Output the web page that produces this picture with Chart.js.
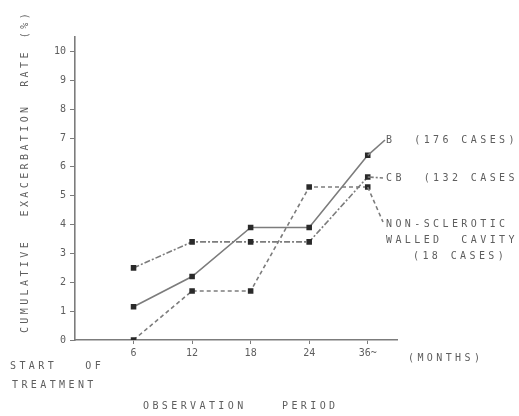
<!DOCTYPE html>
<html>
<head>
<meta charset="utf-8">
<script src="https://cdn.jsdelivr.net/npm/chart.js@4/dist/chart.umd.min.js"></script>
<style>
html,body{margin:0;padding:0;background:#fff;}
#wrap{width:519px;height:416px;position:relative;}
</style>
</head>
<body>
<div id="wrap"><canvas id="c" width="519" height="416"></canvas></div>
<script>
// ---- data ----
const categories = ["6", "12", "18", "24", "36~"];
const seriesB = [1.15, 2.2, 3.9, 3.9, 6.4];          // B (176 cases)
const seriesCB = [2.5, 3.4, 3.4, 3.4, 5.65];        // CB (132 cases)
const seriesNSWC = [0, 1.7, 1.7, 5.3, 5.3];         // Non-sclerotic walled cavity (18 cases)
const yTicks = [0, 1, 2, 3, 4, 5, 6, 7, 8, 9, 10];
const seriesNames = ["B  (176 CASES)", "CB  (132 CASES)", "NON-SCLEROTIC|WALLED  CAVITY|(18 CASES)"];

const FONT = '"DejaVu Sans Mono", "Liberation Mono", monospace';
const TXT = '#5e5e5e';
const LINE = '#7c7c7c';

function pts(arr){ return arr.map((v,i)=>({x:i+1, y:v})); }

const ds = (label, arr, dash) => ({
  label, data: pts(arr), borderColor: LINE, borderWidth: 1.6, borderDash: dash,
  pointStyle: 'rect', pointRadius: 2.8, pointBackgroundColor: '#2a2a2a', pointBorderColor: '#2a2a2a',
  tension: 0, fill: false
});

// leader lines + free text
const annot = {
  id: 'annot',
  afterDatasetsDraw(chart){
    const ctx = chart.ctx;
    ctx.save();
    const targets = [[385,140,[]],[383,178,[6,2,2,2]],[383,222,[4,3]]];
    chart.data.datasets.forEach((d,i)=>{
      const m = chart.getDatasetMeta(i).data;
      const p = m[m.length-1];
      ctx.strokeStyle = LINE; ctx.lineWidth = 1.6; ctx.setLineDash(targets[i][2]);
      ctx.beginPath(); ctx.moveTo(p.x,p.y); ctx.lineTo(targets[i][0],targets[i][1]); ctx.stroke();
    });
    ctx.setLineDash([]);
    ctx.fillStyle = TXT;
    ctx.font = '10px ' + FONT;
    ctx.textBaseline = 'middle';
    try { ctx.letterSpacing = '3.4px'; } catch(e){}
    const text = (s,x,y,align)=>{ ctx.textAlign = align||'left'; ctx.fillText(s,x,y); };
    text(seriesNames[0], 386, 140);
    text(seriesNames[1], 386, 178);
    const ns = seriesNames[2].split('|');
    text(ns[0], 386, 224);
    text(ns[1], 386, 240);
    text(ns[2], 413, 256);
    text('START   OF', 10, 366);
    text('TREATMENT', 12, 385);
    text('(MONTHS)', 408, 358);
    text('OBSERVATION', 143, 406);
    text('PERIOD', 282, 406);
    ctx.save();
    ctx.translate(25, 0);
    ctx.rotate(-Math.PI/2);
    ctx.textAlign = 'center';
    ctx.fillText('CUMULATIVE', -286, 0);
    ctx.fillText('EXACERBATION', -160, 0);
    ctx.fillText('RATE', -68, 0);
    ctx.fillText('(%)', -24, 0);
    ctx.restore();
    ctx.restore();
  }
};

new Chart(document.getElementById('c'), {
  type: 'line',
  data: { datasets: [ ds('B', seriesB, []), ds('CB', seriesCB, [6,2,2,2]), ds('NSWC', seriesNSWC, [4,3]) ] },
  options: {
    responsive: false, animation: false,
    layout: { padding: { top: 37, right: 122, left: 0, bottom: 0 } },
    plugins: { legend: { display: false }, tooltip: { enabled: false } },
    scales: {
      x: {
        type: 'linear', min: 0, max: 5.5,
        afterBuildTicks: s => { s.ticks = categories.map((c,i)=>({value:i+1})); },
        afterFit: s => { s.height = 76; },
        border: { color: LINE, width: 1.6 },
        grid: { drawOnChartArea: false, tickLength: 4, color: LINE },
        ticks: { autoSkip: false, maxRotation: 0, padding: 3, color: TXT,
                 font: { family: FONT, size: 10 },
                 callback: (v) => categories[v-1] }
      },
      y: {
        min: 0, max: 10.5,
        afterBuildTicks: s => { s.ticks = yTicks.map(v=>({value:v})); },
        afterFit: s => { s.width = 75; },
        border: { color: LINE, width: 1.6 },
        grid: { drawOnChartArea: false, tickLength: 5, color: LINE },
        ticks: { padding: 4, color: TXT, font: { family: FONT, size: 10 } }
      }
    }
  },
  plugins: [annot]
});
</script>
</body>
</html>
